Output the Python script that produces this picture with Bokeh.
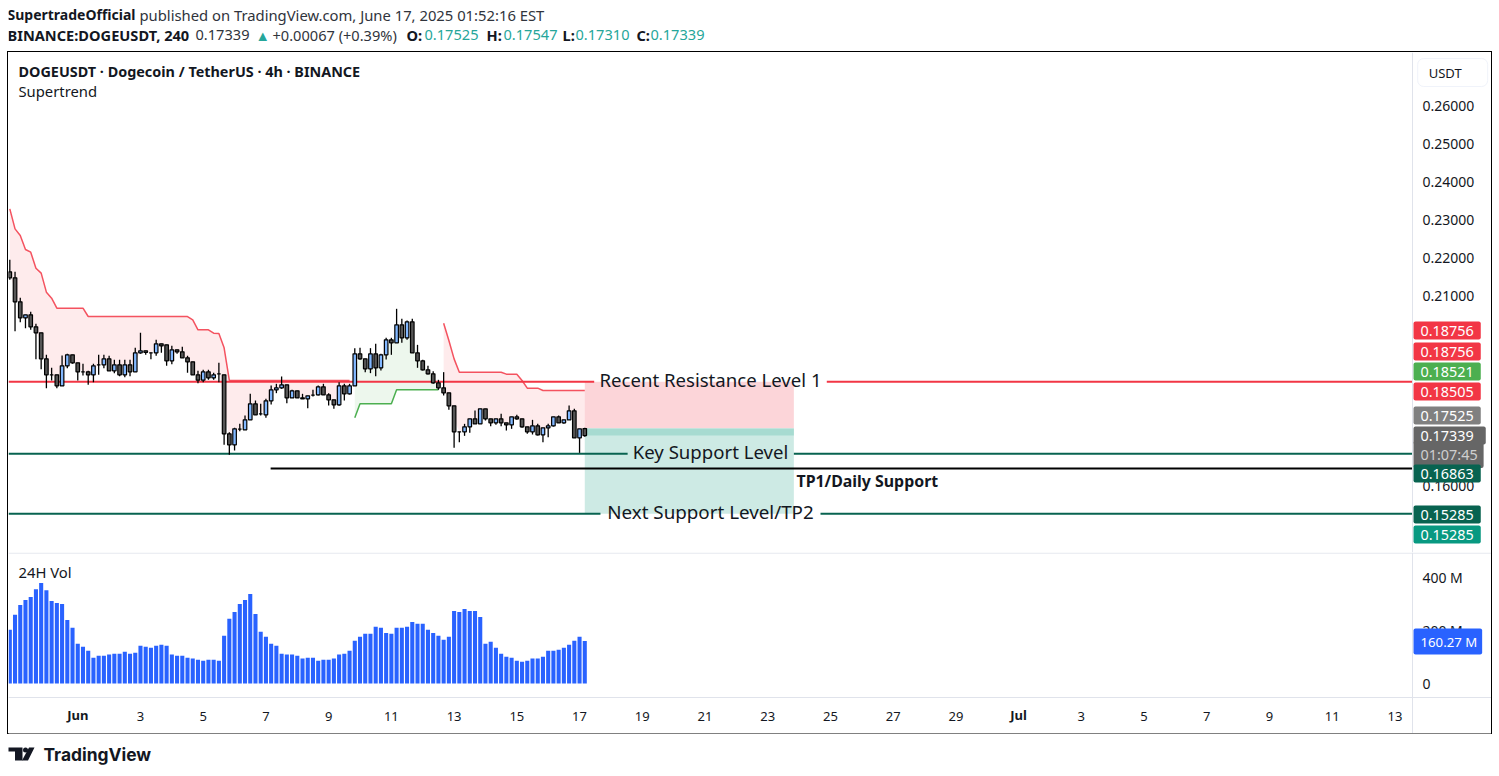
from bokeh.core.properties import value
from bokeh.embed import file_html
from bokeh.layouts import column
from bokeh.models import FixedTicker, Label, Range1d, Span
from bokeh.plotting import figure
from bokeh.resources import INLINE
import numpy as np

# 4h candles
opens = [.21649,.21491,.20859,.20438,.20517,.20201,.20043,.19359,.18938,.18938,
         .18649,.19175,.19465,.19254,.19017,.19017,.18938,.19201,.19201,.19359,
         .19044,.19201,.18938,.19201,.19017,.19517,.19570,.19517,.19517,.19754,
         .19728,.19307,.19596,.19543,.19386,.19280,.18938,.18798,.19017,.18859,
         .18965,.18938,.17386,.17096,.17509,.17491,.17755,.18176,.17913,.17886,
         .18255,.18544,.18597,.18676,.18334,.18518,.18334,.18307,.18404,.18413,
         .18623,.18413,.18281,.18149,.18649,.18439,.18649,.19491,.19360,.19097,
         .19491,.19123,.19465,.19860,.19781,.20255,.19913,.20334,.19518,.19307,
         .19070,.18965,.18728,.18597,.18465,.18123,.17438,.17438,.17570,.17780,
         .17649,.18043,.17780,.17675,.17780,.17675,.17622,.17833,.17780,.17570,
         .17438,.17596,.17359,.17543,.17596,.17833,.17675,.17754,.17991,.17280,
         .17525]
highs = [.21965,.21649,.20965,.20517,.20596,.20280,.20043,.19465,.19122,.18938,
         .19447,.19491,.19465,.19254,.19228,.19044,.19228,.19465,.19465,.19438,
         .19333,.19333,.19333,.19333,.19649,.20043,.19570,.19526,.19859,.19754,
         .19728,.19701,.19596,.19675,.19438,.19280,.19044,.19070,.19070,.18991,
         .19254,.18938,.17430,.17544,.17649,.17869,.18439,.18263,.18176,.18307,
         .18658,.18702,.18895,.18676,.18544,.18518,.18439,.18386,.18544,.18658,
         .18702,.18456,.18281,.18746,.18702,.18702,.19641,.19649,.19360,.19641,
         .19755,.19491,.19913,.19913,.20676,.20413,.20369,.20413,.19728,.19334,
         .19176,.19035,.18807,.19009,.18465,.18123,.17438,.17649,.17780,.18000,
         .18043,.18043,.17780,.17780,.17912,.17675,.17833,.17886,.17780,.17570,
         .17754,.17649,.17543,.17649,.17833,.17868,.17754,.18131,.18043,.17517,
         .17547]
lows = [.21438,.20087,.20324,.20166,.20122,.19350,.19087,.18587,.18789,.18587,
        .18649,.19114,.19228,.18789,.18921,.18675,.18745,.18938,.19114,.19044,
        .18982,.18903,.18877,.18903,.19017,.19491,.19465,.19350,.19438,.19517,
        .19175,.19219,.19491,.19386,.18991,.18938,.18719,.18745,.18807,.18807,
        .18745,.17096,.16833,.16947,.17456,.17491,.17755,.17886,.17869,.17807,
        .18158,.18456,.18570,.18193,.18334,.18334,.18307,.18062,.18369,.18395,
        .18413,.18132,.18044,.18123,.18263,.18421,.18649,.19334,.19009,.18983,
        .18904,.19053,.19342,.19465,.19781,.19781,.19860,.19518,.19123,.19053,
        .18948,.18702,.18544,.18395,.18018,.17018,.17166,.17333,.17412,.17649,
        .17649,.17736,.17587,.17622,.17587,.17473,.17517,.17754,.17543,.17386,
        .17368,.17342,.17166,.17298,.17578,.17675,.17649,.17754,.17280,.16885,
        .17310]
closes = [.21491,.20859,.20438,.20517,.20201,.20043,.19359,.18938,.18938,.18649,
          .19175,.19465,.19254,.19017,.19017,.18938,.19175,.19201,.19359,.19044,
          .19201,.18938,.19201,.19017,.19517,.19570,.19526,.19517,.19754,.19701,
          .19307,.19596,.19543,.19386,.19280,.18938,.18798,.19017,.18859,.18938,
          .18965,.17386,.17096,.17517,.17509,.17755,.18176,.17886,.17913,.18255,
          .18544,.18597,.18676,.18334,.18518,.18334,.18307,.18386,.18404,.18623,
          .18413,.18281,.18149,.18649,.18439,.18649,.19491,.19360,.19097,.19491,
          .19123,.19465,.19860,.19781,.20255,.19913,.20334,.19518,.19307,.19070,
          .18965,.18728,.18597,.18465,.18123,.17439,.17438,.17570,.17780,.17649,
          .18043,.17780,.17675,.17780,.17675,.17622,.17833,.17780,.17570,.17438,
          .17596,.17359,.17543,.17596,.17833,.17675,.17754,.17991,.17280,.17517,
          .17339]
volumes = [202.5,259,296,315,326,356,379,352,311,304,300,240,210,150,139,124,97.5,105,105,109,
           112.5,112.5,120,112.5,116,142.5,139,135,142.5,146,142.5,109,105,105,97.5,94,90,86,90,90,
           86,180,244,270,300,315,337.5,262.5,195,176,150,142.5,112.5,109,109,105,
           94,97.5,97.5,86,90,90,94,109,112.5,124,161,176,187.5,187.5,214,210,191,187.5,210,210,
           214,232.5,225,225,202.5,191,180,165,176,274,270,281,274,274,251,150,157.5,135,112.5,101,
           97.5,86,82.5,86,94,94,101,124,124,127.5,135,146,161,176,160.27]

# supertrend, split in its three runs
st_down_1 = [.23307,.22780,.22605,.22237,.22166,.21745,.21614,.21114,.20956,.20693,
             .20693,.20693,.20693,.20693,.20693,.20473,.20473,.20473,.20473,.20473,
             .20473,.20473,.20473,.20473,.20473,.20473,.20473,.20473,.20473,.20473,
             .20473,.20473,.20473,.20473,.20473,.20386,.20122,.20122,.20122,.20035,
             .20026,.19649,.18790,.18790,.18790,.18790,.18790,.18790,.18790,.18790,
             .18790,.18790,.18790,.18790,.18790,.18790,.18790,.18790,.18790,.18790,
             .18790,.18790,.18790,.18790,.18790,.18790]
st_up = [.17807,.18176,.18176,.18176,.18176,.18176,.18176,.18176,.18544,.18544,
         .18544,.18544,.18544,.18544,.18544,.18544,.18544]
st_down_2 = [.20298,.19842,.19359,.19008,.19008,.19008,.19008,.19008,.19008,.19008,
             .19008,.19008,.18956,.18956,.18956,.18789,.18587,.18587,.18587,.18526,
             .18526,.18526,.18526,.18526,.18526,.18526,.18526,.18526]

resistance = 0.18756
key_support = 0.16863
daily_support = 0.16474
next_support = 0.15285
entry = 0.17525
last_price = 0.17339

price_ticks = [0.16, 0.21, 0.22, 0.23, 0.24, 0.25, 0.26]
vol_ticks = [0, 200, 400]
vol_labels = {0: "0", 200: "200 M", 400: "400 M"}
date_ticks = [25, 37, 49, 61, 73, 85, 97, 109, 121, 133, 145, 157, 169, 181, 205, 217, 229, 241, 253, 265]
date_labels = ["3", "5", "7", "9", "11", "13", "15", "17", "19", "21", "23", "25", "27", "29",
               "3", "5", "7", "9", "11", "13"]

FONT = "Noto Sans"
INK = "#131722"
RED = "#f23645"
TEAL = "#086350"
SEP = "#e0e3eb"
# frames run to the outer border, the price scale sits on a fixed axis inside them
LEFT, AXIS_X, RIGHT = -0.25, 268.35, 283.47

x = np.arange(len(opens))
o, h, l, c = map(np.array, (opens, highs, lows, closes))
mid = (o + c) / 2
up = c > o

# header
head = figure(width=1483, height=49, x_range=(0, 1483), y_range=(49, 0), output_backend="svg",
              toolbar_location=None, min_border=0, outline_line_color=None)
head.axis.visible = False
head.grid.visible = False


def head_text(xs, ys, text, color=INK, bold=False, size="14.6px"):
    head.text([xs], [ys], text=[text], text_color=color, text_font=value(FONT),
              text_font_size=size, text_baseline="middle",
              text_font_style="bold" if bold else "normal")


head_text(-1, 11, "SupertradeOfficial", bold=True, size="14px")
head_text(131, 11, "published on TradingView.com, June 17, 2025 01:52:16 EST", "#30343c", size="14.8px")
head_text(-1, 31, "BINANCE:DOGEUSDT, 240", bold=True)
head_text(187, 31, "0.17339", "#30343c")
head_text(247, 31, "▲", "#26a69a")
head_text(264, 31, "+0.00067 (+0.39%)", "#30343c")
head_text(398, 31, "O:", bold=True)
head_text(416, 31, "0.17525", "#26a69a")
head_text(478, 31, "H:", bold=True)
head_text(495, 31, "0.17547", "#26a69a")
head_text(554, 31, "L:", bold=True)
head_text(567, 31, "0.17310", "#26a69a")
head_text(628, 31, "C:", bold=True)
head_text(642, 31, "0.17339", "#26a69a")

# price pane
p = figure(width=1483, height=500, x_range=Range1d(LEFT, RIGHT), y_range=Range1d(0.14263, 0.27421),
           output_backend="svg", toolbar_location=None, y_axis_location="right",
           min_border=0, outline_line_color=None)
p.grid.visible = False
p.xaxis.visible = False
p.yaxis.fixed_location = AXIS_X
p.yaxis.ticker = FixedTicker(ticks=price_ticks)
p.yaxis.major_label_overrides = {t: f"{t:.5f}" for t in price_ticks}
p.yaxis.major_tick_line_color = None
p.yaxis.minor_tick_line_color = None
p.yaxis.axis_line_color = SEP
p.yaxis.major_label_standoff = 4
p.yaxis.major_label_text_font = FONT
p.yaxis.major_label_text_font_size = "14px"
p.yaxis.major_label_text_color = INK

# long position box
p.quad(left=110, right=150, bottom=entry, top=resistance, fill_color="#fcd5d9", line_color=None)
p.quad(left=110, right=150, bottom=next_support, top=entry, fill_color="#cdeae4", line_color=None)
p.quad(left=110, right=150, bottom=last_price, top=entry, fill_color="#a7dbd1", line_color=None)

# supertrend fills and lines
p.varea(x[:66], st_down_1, mid[:66], fill_color=RED, fill_alpha=0.1)
p.varea(x[66:83], st_up, mid[66:83], fill_color="#4caf50", fill_alpha=0.1)
p.varea(x[83:], st_down_2, mid[83:], fill_color=RED, fill_alpha=0.1)
p.line(x[:66], st_down_1, line_color=RED, line_width=1.5, line_alpha=0.85)
p.line(x[66:83], st_up, line_color="#4caf50", line_width=1.5)
p.line(x[83:], st_down_2, line_color=RED, line_width=1.5, line_alpha=0.85)

# horizontal levels, broken where their labels sit
p.segment([LEFT, 156.3], [resistance] * 2, [111.8, AXIS_X], [resistance] * 2, line_color=RED, line_width=2)
p.segment([LEFT, 150], [key_support] * 2, [118.2, AXIS_X], [key_support] * 2, line_color=TEAL, line_width=2)
p.segment([LEFT, 155.1], [next_support] * 2, [113, AXIS_X], [next_support] * 2, line_color=TEAL, line_width=2)
p.segment([49.9], [daily_support], [AXIS_X], [daily_support], line_color="black", line_width=2)

# candles
p.segment(x, h, x, l, line_color="black", line_width=1.3)
p.vbar(x[up], 0.68, o[up], c[up], fill_color="#82b8ff", line_color="black", line_width=1.2)
p.vbar(x[~up], 0.68, c[~up], o[~up], fill_color="#555555", line_color="black", line_width=1.2)


def level_text(text, xs, ys, size="18.6px", bold=False, align="center"):
    p.add_layout(Label(x=xs, y=ys, y_offset=2, text=text, text_font=FONT, text_font_size=size, text_color=INK,
                       text_align=align, text_baseline="middle",
                       text_font_style="bold" if bold else "normal"))


level_text("Recent Resistance Level 1", 134.05, resistance)
level_text("Key Support Level", 134.05, key_support)
level_text("Next Support Level/TP2", 134.05, next_support, size="18.8px")
level_text("TP1/Daily Support", 150.5, 0.16105, size="15.9px", bold=True, align="left")

p.add_layout(Label(x=10, y=481, x_units="screen", y_units="screen", text="DOGEUSDT · Dogecoin / TetherUS · 4h · BINANCE",
                   text_font=FONT, text_font_size="14.4px", text_font_style="bold", text_color=INK,
                   text_baseline="middle"))
p.add_layout(Label(x=10, y=462, x_units="screen", y_units="screen", text="Supertrend",
                   text_font=FONT, text_font_size="14.8px", text_color=INK, text_baseline="middle"))


# value tags on the price scale, page_y is the centre in the screenshot
def tag(fig, text, page_y, color, bottom=552, text_color="white", pad=(7, 4), border=None, xs=AXIS_X + 0.2,
        size="14.4px", radius=2):
    fig.add_layout(Label(x=xs, y=bottom - page_y, y_units="screen", text=text,
                         text_font=FONT, text_font_size=size, text_color=text_color,
                         text_baseline="middle", background_fill_color=color, border_line_color=border,
                         padding=pad, border_radius=radius))


tag(p, "USDT", 72, "white", text_color=INK, pad=(11, 26, 5, 5), border="#f0f3fa", xs=AXIS_X + 1, size="13px", radius=6)
tag(p, "0.18756", 330, RED)
tag(p, "0.18756", 351, RED)
tag(p, "0.18521", 371, "#4caf50")
tag(p, "0.18505", 391, RED)
tag(p, "0.17525", 415, "#808080")
tag(p, "0.17339", 435, "#666666", pad=(7, 12, 4, 4))
tag(p, "01:07:45", 454, "#666666", text_color="#cfcfcf", pad=(7, 6, 4, 4))
tag(p, "0.16863", 473, TEAL)
tag(p, "0.15285", 514, TEAL)
tag(p, "0.15285", 534, "#089981")

# volume pane
v = figure(width=1483, height=181, x_range=p.x_range, y_range=Range1d(-188.7, 494.3),
           output_backend="svg", toolbar_location=None, y_axis_location="right",
           min_border=0, outline_line_color=None)
v.grid.visible = False
v.add_layout(Span(location=492, dimension="width", line_color=SEP, line_width=1))
v.vbar(x, 0.78, 0, volumes, fill_color="#2962ff", line_color=None)
v.yaxis.fixed_location = AXIS_X
v.yaxis.ticker = FixedTicker(ticks=vol_ticks)
v.yaxis.major_label_overrides = vol_labels
v.yaxis.major_tick_line_color = None
v.yaxis.minor_tick_line_color = None
v.yaxis.axis_line_color = SEP
v.yaxis.major_label_standoff = 4
v.yaxis.major_label_text_font = FONT
v.yaxis.major_label_text_font_size = "14px"
v.yaxis.major_label_text_color = INK
v.xaxis.fixed_location = -52.8
v.xaxis.ticker = FixedTicker(ticks=date_ticks)
v.xaxis.major_label_overrides = dict(zip(date_ticks, date_labels))
v.xaxis.major_tick_line_color = None
v.xaxis.minor_tick_line_color = None
v.xaxis.axis_line_color = SEP
v.xaxis.major_label_standoff = 9
v.xaxis.major_label_text_font = FONT
v.xaxis.major_label_text_font_size = "13px"
v.xaxis.major_label_text_color = INK

for idx, name in [(13, "Jun"), (193, "Jul")]:
    v.add_layout(Label(x=idx, y=19, y_units="screen", text=name, text_font=FONT, text_font_size="13px",
                       text_font_style="bold", text_color=INK, text_align="center", text_baseline="middle"))
v.add_layout(Label(x=10, y=162, x_units="screen", y_units="screen", text="24H Vol", text_font=FONT,
                   text_font_size="14.8px", text_color=INK, text_baseline="middle"))
tag(v, "160.27 M", 641, "#2962ff", bottom=733, size="13.2px", pad=(7, 5, 4, 4))

# footer with the logo
foot = figure(width=1483, height=35, x_range=(0, 1483), y_range=(35, 0), output_backend="svg",
              toolbar_location=None, min_border=0, outline_line_color=None)
foot.axis.visible = False
foot.grid.visible = False
foot.patch([-1, 14, 14, 6.5, 6.5, -1], [14, 14, 27, 27, 18, 18], fill_color=INK, line_color=None)
foot.circle([17], [16.5], radius=2.5, fill_color=INK, line_color=None)
foot.patch([20.5, 26, 19.5, 13.5], [14, 14, 27, 27], fill_color=INK, line_color=None)
foot.text([35], [21], text=["TradingView"], text_font=value("Inter"), text_font_size="17.4px", text_font_style="bold",
          text_color=INK, text_baseline="middle")

chart = column(p, v, spacing=0, styles={"outline": "1.5px solid black"})
page = column(head, chart, foot, spacing=0, margin=(3, 0, 0, 8))

open("out.html", "w").write(file_html(page, INLINE))
